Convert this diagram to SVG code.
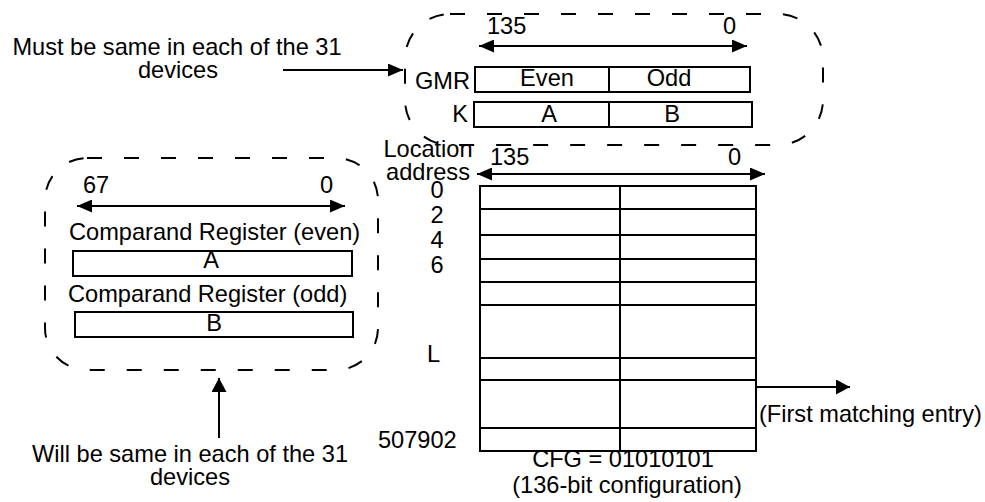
<svg xmlns="http://www.w3.org/2000/svg" width="985" height="502" viewBox="0 0 985 502">
<style>
text{font-family:"Liberation Sans",Arial,sans-serif;font-size:23.6px;fill:#000}
.m{text-anchor:middle}
.e{text-anchor:end}
.box{fill:#fff;stroke:#000;stroke-width:2}
.ln{fill:none;stroke:#000;stroke-width:2}
.dash{fill:none;stroke:#000;stroke-width:2;stroke-dasharray:15 22}
</style>
<defs>
<marker id="ah" viewBox="0 0 15 13" refX="15" refY="6.5" markerWidth="15" markerHeight="13" markerUnits="userSpaceOnUse" orient="auto-start-reverse">
<path d="M0,0 L15,6.5 L0,13 Z" fill="#000"/>
</marker>
<marker id="ah2" viewBox="0 0 14 15" refX="14" refY="7.5" markerWidth="14" markerHeight="15" markerUnits="userSpaceOnUse" orient="auto">
<path d="M0,0 L14,7.5 L0,15 Z" fill="#000"/>
</marker>
</defs>
<rect width="985" height="502" fill="#fff"/>

<g id="gmr-group">
<rect class="dash" x="405" y="14" width="418" height="131" rx="45"/>
<text x="487" y="34">135</text>
<text x="723" y="34">0</text>
<text class="e" x="470" y="89">GMR</text>
<rect class="box" x="475" y="67" width="275" height="25"/>
<line class="ln" x1="609" y1="67" x2="609" y2="92"/>
<text class="m" x="547" y="86">Even</text>
<text class="m" x="669" y="86">Odd</text>
<text class="e" x="468" y="122">K</text>
<rect class="box" x="474" y="102" width="278" height="25"/>
<line class="ln" x1="609" y1="102" x2="609" y2="127"/>
<text class="m" x="549" y="122">A</text>
<text class="m" x="672" y="122">B</text>
</g>

<g id="comparand-group">
<rect class="dash" x="45" y="158" width="333" height="212" rx="42"/>
<text x="83" y="193">67</text>
<text x="320" y="193">0</text>
<text x="69" y="240">Comparand Register (even)</text>
<rect class="box" x="73" y="251" width="279" height="25"/>
<text class="m" x="211" y="268">A</text>
<text x="68" y="302">Comparand Register (odd)</text>
<rect class="box" x="75" y="312" width="278" height="25"/>
<text class="m" x="214" y="331">B</text>
</g>

<g id="table">
<text class="m" x="428" y="157">Location</text>
<text class="m" x="428" y="180">address</text>
<text x="490" y="165">135</text>
<text x="728" y="165">0</text>
<rect class="box" x="480" y="186" width="276" height="265"/>
<line class="ln" x1="620" y1="186" x2="620" y2="451"/>
<line class="ln" x1="480" y1="209" x2="756" y2="209"/>
<line class="ln" x1="480" y1="235" x2="756" y2="235"/>
<line class="ln" x1="480" y1="259" x2="756" y2="259"/>
<line class="ln" x1="480" y1="282" x2="756" y2="282"/>
<line class="ln" x1="480" y1="305" x2="756" y2="305"/>
<line class="ln" x1="480" y1="358" x2="756" y2="358"/>
<line class="ln" x1="480" y1="380" x2="756" y2="380"/>
<line class="ln" x1="480" y1="428" x2="756" y2="428"/>
<text class="m" x="437" y="198">0</text>
<text class="m" x="437" y="223">2</text>
<text class="m" x="437" y="248">4</text>
<text class="m" x="437" y="273">6</text>
<text x="427" y="362">L</text>
<text x="378" y="448">507902</text>
<text x="759" y="422">(First matching entry)</text>
<text class="m" x="623" y="467">CFG = 01010101</text>
<text class="m" x="627" y="493">(136-bit configuration)</text>
</g>

<g id="note-top">
<text class="m" x="177" y="55">Must be same in each of the 31</text>
<text class="m" x="178" y="78">devices</text>
</g>

<g id="note-bottom">
<text class="m" x="190" y="462">Will be same in each of the 31</text>
<text class="m" x="190" y="485">devices</text>
</g>

<g id="connectors">
<line class="ln" x1="283" y1="70" x2="403" y2="70" marker-end="url(#ah)"/>
<line class="ln" x1="479" y1="46" x2="747" y2="46" marker-start="url(#ah)" marker-end="url(#ah)"/>
<line class="ln" x1="477" y1="174" x2="765" y2="174" marker-start="url(#ah)" marker-end="url(#ah)"/>
<line class="ln" x1="77" y1="206" x2="345" y2="206" marker-start="url(#ah)" marker-end="url(#ah)"/>
<line class="ln" x1="219" y1="438" x2="219" y2="378" marker-end="url(#ah2)"/>
<line class="ln" x1="756" y1="387" x2="850" y2="387" marker-end="url(#ah2)"/>
</g>
</svg>
